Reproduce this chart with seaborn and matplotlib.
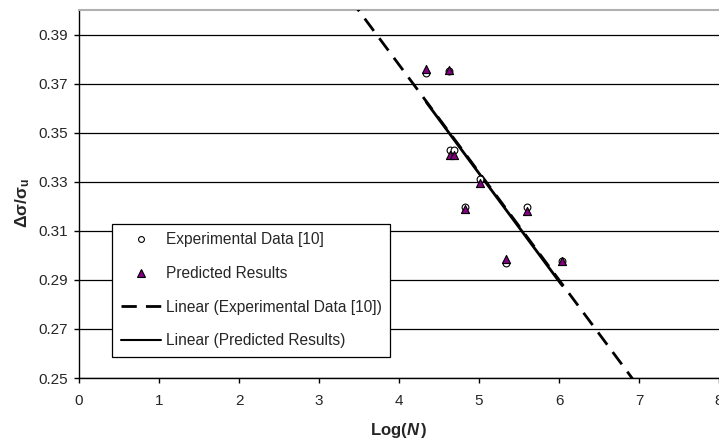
import numpy as np
import pandas as pd
import matplotlib
matplotlib.use("Agg")
import matplotlib.pyplot as plt
import seaborn as sns
from matplotlib.lines import Line2D

# ---- data ----
log_n = [4.34, 4.62, 4.64, 4.69, 4.83, 5.01, 5.34, 5.60, 6.04]
exp_ratio = [0.3745, 0.3750, 0.3428, 0.3428, 0.3195, 0.3310, 0.2970, 0.3197, 0.2975]
pred_ratio = [0.3760, 0.3755, 0.3410, 0.3410, 0.3190, 0.3295, 0.2985, 0.3180, 0.2975]
x_ticks = [0, 1, 2, 3, 4, 5, 6, 7, 8]
y_ticks = [0.25, 0.27, 0.29, 0.31, 0.33, 0.35, 0.37, 0.39]
labels = ["Experimental Data [10]", "Predicted Results",
          "Linear (Experimental Data [10])", "Linear (Predicted Results)"]

sns.set_style("white")
plt.rcParams["font.family"] = ["Liberation Sans", "DejaVu Sans"]
plt.rcParams["mathtext.fontset"] = "custom"
plt.rcParams["mathtext.rm"] = "Liberation Sans"
plt.rcParams["mathtext.bf"] = "Liberation Sans:bold"
plt.rcParams["mathtext.it"] = "Liberation Sans:italic"
plt.rcParams["mathtext.bfit"] = "Liberation Sans:bold:italic"

W, H = 719, 443
fig = plt.figure(figsize=(W / 100, H / 100), dpi=100)
L, R, T, B = 79, 719, 10, 378
ax = fig.add_axes([L / W, 1 - B / H, (R - L) / W, (B - T) / H])

df = pd.DataFrame({"x": log_n, "exp": exp_ratio, "pred": pred_ratio})

# trendlines (least squares fits of each series)
pe = np.polyfit(df["x"], df["exp"], 1)
pp = np.polyfit(df["x"], df["pred"], 1)
xe = np.array([3.0, 7.5])
xp = np.array([min(log_n), max(log_n)])
fit_e = pd.DataFrame({"x": xe, "y": np.polyval(pe, xe)})
fit_p = pd.DataFrame({"x": xp, "y": np.polyval(pp, xp)})

DASH = (5.5, 3.3)
sns.lineplot(data=fit_e, x="x", y="y", ax=ax, color="black", lw=2.0, zorder=3)
ax.lines[-1].set_dashes(DASH)
sns.lineplot(data=fit_p, x="x", y="y", ax=ax, color="black", lw=2.0, zorder=3)

sns.scatterplot(data=df, x="x", y="exp", ax=ax, marker="o", s=24,
                facecolor="white", edgecolor="black", linewidth=0.8, zorder=4)
sns.scatterplot(data=df, x="x", y="pred", ax=ax, marker="^", s=34,
                color="#800080", edgecolor="black", linewidth=0.8, zorder=5)

ax.set_xlim(0, 8)
ax.set_ylim(0.25, 0.40)
ax.set_xticks(x_ticks)
ax.set_yticks(y_ticks)
ax.set_xticklabels([str(t) for t in x_ticks])
ax.set_yticklabels([f"{t:.2f}" for t in y_ticks])
ax.tick_params(axis="both", direction="out", length=3.8, width=1, color="black",
               labelsize=11, bottom=True, left=True)
ax.tick_params(axis="x", pad=7.5)
ax.tick_params(axis="y", pad=4)
ax.yaxis.grid(True, color="black", lw=0.9)
ax.xaxis.grid(False)
ax.set_axisbelow(True)
for s in ["left", "bottom"]:
    ax.spines[s].set_color("black")
    ax.spines[s].set_linewidth(1.0)
ax.spines["top"].set_color("#b0b0b0")
ax.spines["top"].set_linewidth(1.5)
ax.spines["right"].set_visible(False)

ax.set_xlabel(r"$\mathbf{Log(}\mathbfit{N}\,\mathbf{)}$", fontsize=12)
ax.set_ylabel(r"$\mathbf{\Delta\sigma/\sigma_u}$", fontsize=12.5)
ax.xaxis.set_label_coords((399 - L) / (R - L), (B - 430) / (B - T))
ax.xaxis.label.set_va("center")
ax.yaxis.set_label_coords((23 - L) / (R - L), (B - 203) / (B - T))
ax.yaxis.label.set_va("center")

handles = [
    Line2D([], [], ls="none", marker="o", markersize=4.2, markerfacecolor="white",
           markeredgecolor="black", markeredgewidth=0.8),
    Line2D([], [], ls="none", marker="^", markersize=5.2, markerfacecolor="#800080",
           markeredgecolor="black", markeredgewidth=0.8),
    Line2D([], [], color="black", lw=2.0, dashes=DASH),
    Line2D([], [], color="black", lw=1.5),
]
leg = ax.legend(handles, labels, loc="lower left",
                bbox_to_anchor=((112 - L) / (R - L), (B - 357) / (B - T)),
                borderaxespad=0, frameon=True,
                fancybox=False, edgecolor="black", framealpha=1,
                fontsize=11.2, labelspacing=1.2, handlelength=2.6,
                handletextpad=0.3, borderpad=0.55)
leg.get_frame().set_linewidth(0.9)
leg.set_zorder(10)

fig.savefig("out.png", dpi=100)
